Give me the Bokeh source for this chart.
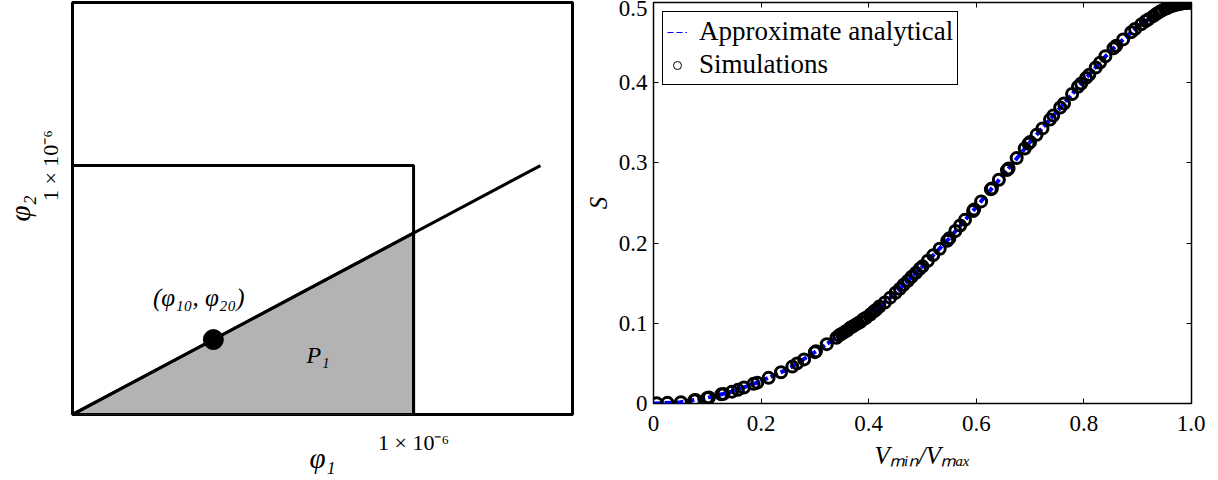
from bokeh.plotting import figure
from bokeh.models import Range1d, FixedTicker, LinearAxis, Legend, LegendItem, Label
from bokeh.layouts import row
from bokeh.embed import file_html
from bokeh.resources import INLINE

# ---------------- left panel (schematic) data ----------------
square_x = [0, 1, 1]
square_y = [1, 1, 0]
line_x = [0, 1.372]
line_y = [0, 1.0]
tri_x = [0, 1, 1]
tri_y = [0, 0, 0.729]
phi10 = [0.413]
phi20 = [0.301]
left_ticks = [1]
left_tick_label = "1 × 10⁻⁶"

# ---------------- right panel data ----------------
curve_x = [0.0, 0.05, 0.1, 0.15, 0.2, 0.25, 0.3, 0.35, 0.4, 0.45, 0.5, 0.55, 0.6,
           0.65, 0.7, 0.75, 0.8, 0.85, 0.9, 0.95, 0.975, 1.0]
curve_s = [0.0, 0.0015, 0.007, 0.0155, 0.028, 0.043, 0.064, 0.087, 0.109, 0.138, 0.171,
           0.206, 0.245, 0.285, 0.326, 0.364, 0.403, 0.440, 0.470, 0.492, 0.498, 0.500]

sim_x = [0.006, 0.026, 0.051, 0.076, 0.078, 0.10, 0.103, 0.126, 0.13, 0.146, 0.157, 0.168,
         0.186, 0.193, 0.214, 0.237, 0.258, 0.267, 0.28, 0.30, 0.302, 0.322, 0.34, 0.345,
         0.35, 0.355, 0.36, 0.365, 0.37, 0.375, 0.38, 0.385, 0.39, 0.395, 0.403, 0.41,
         0.414, 0.42, 0.43, 0.44, 0.45, 0.458, 0.465, 0.473, 0.48, 0.488, 0.495, 0.50,
         0.51, 0.52, 0.532, 0.546, 0.55, 0.561, 0.57, 0.579, 0.594, 0.596, 0.609, 0.627,
         0.629, 0.642, 0.657, 0.66, 0.675, 0.69, 0.697, 0.70, 0.712, 0.723, 0.737, 0.743,
         0.756, 0.763, 0.778, 0.789, 0.795, 0.804, 0.81, 0.822, 0.83, 0.84, 0.855, 0.86,
         0.873, 0.888, 0.895, 0.907, 0.915, 0.92, 0.929, 0.935, 0.94, 0.945, 0.951, 0.955,
         0.96, 0.965, 0.97, 0.973, 0.977, 0.98, 0.983, 0.986, 0.989, 0.991, 0.993, 0.995,
         0.997, 0.999]
sim_s = [0.0002, 0.0008, 0.0016, 0.004, 0.0043, 0.007, 0.0075, 0.0114, 0.012, 0.0148, 0.017,
         0.020, 0.0245, 0.026, 0.032, 0.039, 0.046, 0.050, 0.055, 0.064, 0.065, 0.074, 0.082,
         0.085, 0.087, 0.089, 0.091, 0.094, 0.096, 0.098, 0.100, 0.102, 0.105, 0.107, 0.111,
         0.115, 0.117, 0.121, 0.126, 0.132, 0.138, 0.143, 0.148, 0.153, 0.158, 0.163, 0.168,
         0.171, 0.178, 0.185, 0.193, 0.203, 0.206, 0.215, 0.222, 0.229, 0.240, 0.242, 0.252,
         0.267, 0.268, 0.279, 0.291, 0.293, 0.306, 0.318, 0.324, 0.326, 0.335, 0.343, 0.354,
         0.359, 0.369, 0.374, 0.386, 0.395, 0.399, 0.406, 0.410, 0.419, 0.425, 0.433, 0.443,
         0.446, 0.454, 0.463, 0.467, 0.473, 0.477, 0.479, 0.483, 0.486, 0.488, 0.490, 0.492,
         0.493, 0.495, 0.496, 0.497, 0.4975, 0.498, 0.4985, 0.499, 0.4993, 0.4995, 0.4997,
         0.4998, 0.4999, 0.5, 0.5]

x_ticks = [0, 0.2, 0.4, 0.6, 0.8, 1.0]
x_tick_labels = ["0", "0.2", "0.4", "0.6", "0.8", "1.0"]
y_ticks = [0, 0.1, 0.2, 0.3, 0.4, 0.5]
y_tick_labels = ["0", "0.1", "0.2", "0.3", "0.4", "0.5"]

SERIF = "Liberation Serif"

# ================= left figure =================
pl = figure(frame_width=500, frame_height=412,
            x_range=Range1d(0, 1.466), y_range=Range1d(0, 1.655),
            output_backend="svg", toolbar_location=None,
            min_border_left=60, min_border_right=9, min_border_top=2, min_border_bottom=50)
pl.grid.visible = False
pl.outline_line_color = "black"
pl.outline_line_width = 3
pl.outline_line_alpha = 1.0

for ax in (pl.xaxis[0], pl.yaxis[0]):
    ax.ticker = FixedTicker(ticks=left_ticks)
    ax.major_label_overrides = {t: left_tick_label for t in left_ticks}
    ax.major_tick_line_color = None
    ax.minor_tick_line_color = None
    ax.axis_line_color = None
    ax.major_label_text_font = SERIF
    ax.major_label_text_font_size = "22px"
    ax.major_label_text_color = "black"
    ax.axis_label_text_font = SERIF
    ax.axis_label_text_font_size = "29px"
    ax.axis_label_text_font_style = "italic"
    ax.axis_label_text_color = "black"
pl.xaxis.axis_label = "φ₁"
pl.yaxis.axis_label = "φ₂"
pl.yaxis.major_label_orientation = "vertical"
pl.xaxis.major_label_standoff = 9
pl.xaxis.axis_label_standoff = -16
pl.yaxis.major_label_standoff = 3
pl.yaxis.axis_label_standoff = 0

pl.patch(tri_x, tri_y, fill_color="#b3b3b3", line_color="black", line_width=3)
pl.line(square_x, square_y, line_color="black", line_width=3)
pl.line(line_x, line_y, line_color="black", line_width=3)
pl.scatter(phi10, phi20, size=20, marker="circle", color="black")
pl.add_layout(Label(x=0.37, y=0.47, text="(φ₁₀, φ₂₀)", text_align="center",
                    text_baseline="middle", text_font=SERIF, text_font_size="25px",
                    text_font_style="italic", text_color="black"))
pl.add_layout(Label(x=0.72, y=0.24, text="P₁", text_align="center",
                    text_baseline="middle", text_font=SERIF, text_font_size="24px",
                    text_font_style="italic", text_color="black"))

# ================= right figure =================
pr = figure(frame_width=538, frame_height=401,
            x_range=Range1d(0, 1), y_range=Range1d(0, 0.5),
            output_backend="svg", toolbar_location=None,
            min_border_left=60, min_border_right=14, min_border_top=2, min_border_bottom=55)
pr.grid.visible = False
pr.outline_line_color = "black"
pr.outline_line_width = 1.5
pr.outline_line_alpha = 1.0

pr.add_layout(LinearAxis(), "above")
pr.add_layout(LinearAxis(), "right")
for ax in pr.axis:
    ax.major_tick_in = 5
    ax.major_tick_out = 0
    ax.minor_tick_line_color = None
    ax.axis_line_color = None
    ax.major_tick_line_color = "black"
    ax.major_tick_line_width = 1
    ax.major_label_text_font = SERIF
    ax.major_label_text_font_size = "23px"
    ax.major_label_text_color = "black"
    ax.axis_label_text_font = SERIF
    ax.axis_label_text_font_size = "25px"
    ax.axis_label_text_font_style = "italic"
    ax.axis_label_text_color = "black"
for ax in pr.xaxis:
    ax.ticker = FixedTicker(ticks=x_ticks)
    ax.major_label_overrides = dict(zip(x_ticks, x_tick_labels))
for ax in pr.yaxis:
    ax.ticker = FixedTicker(ticks=y_ticks)
    ax.major_label_overrides = dict(zip(y_ticks, y_tick_labels))
for ax, ticks in ((pr.above[0], x_ticks), (pr.right[0], y_ticks)):
    ax.major_label_overrides = {t: "" for t in ticks}
    ax.major_label_text_font_size = "1px"
    ax.major_label_standoff = 0
pr.below[0].major_label_standoff = 12
pr.below[0].axis_label = "Vₘᵢₙ/Vₘₐₓ"
pr.below[0].axis_label_standoff = 8
pr.left[0].major_label_standoff = 6
pr.left[0].axis_label = "S"
pr.left[0].axis_label_standoff = 4

# legend-only renderers (hidden; legend still draws their glyphs)
leg_line = pr.line(curve_x, curve_s, line_color="#0000ff", line_width=1, line_dash="6 3",
                   visible=False)
leg_circ = pr.scatter(sim_x, sim_s, marker="circle", size=6, fill_color=None,
                      line_color="black", line_width=1, visible=False)

pr.line(curve_x, curve_s, line_color="#0000ff", line_width=4, line_dash="8 3")
pr.scatter(sim_x, sim_s, marker="circle", size=11, fill_color=None,
           line_color="black", line_width=3)

legend = Legend(items=[LegendItem(label="Approximate analytical", renderers=[leg_line]),
                       LegendItem(label="Simulations", renderers=[leg_circ])],
                location="top_left", margin=9, padding=4, spacing=2,
                glyph_width=20, glyph_height=28, label_height=28, label_standoff=12,
                label_text_font=SERIF, label_text_font_size="27px",
                label_text_color="black", click_policy="none",
                inactive_fill_alpha=0.0,
                border_line_color="black", border_line_width=1.5, border_line_alpha=1.0,
                background_fill_alpha=1.0)
pr.add_layout(legend)

layout = row(pl, pr)
open("out.html", "w").write(file_html(layout, INLINE))
